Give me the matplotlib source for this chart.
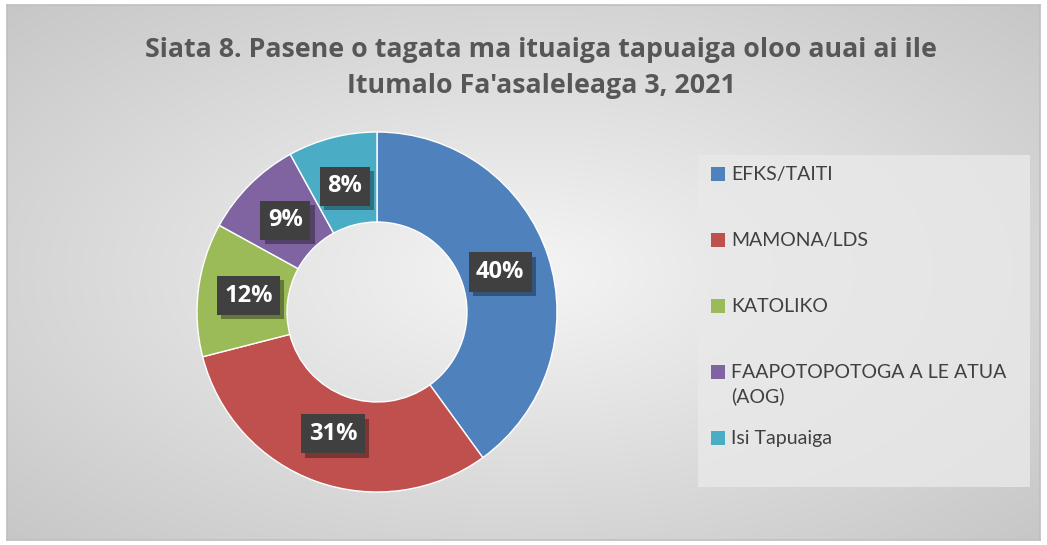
import numpy as np
import matplotlib.pyplot as plt
from matplotlib.patches import Rectangle
import matplotlib.patheffects as pe

plt.rcParams['font.family'] = ['Lato', 'DejaVu Sans']
plt.rcParams['hatch.color'] = '#575757'
plt.rcParams['hatch.linewidth'] = 0.6

title = "Siata 8. Pasene o tagata ma ituaiga tapuaiga oloo auai ai ile\nItumalo Fa'asaleleaga 3, 2021"
categories = ["EFKS/TAITI", "MAMONA/LDS", "KATOLIKO", "FAAPOTOPOTOGA A LE ATUA\n(AOG)", "Isi Tapuaiga"]
values = [40, 31, 12, 9, 8]
colors = ["#4F81BD", "#C0504D", "#9BBB59", "#8064A2", "#4BACC6"]

W, H = 1047, 545
fig = plt.figure(figsize=(W / 100, H / 100), dpi=100)

# radial gradient background
bg = fig.add_axes([7 / W, 5 / H, 1033 / W, 535 / H])
yy, xx = np.mgrid[0:1:300j, 0:1:600j]
d = np.sqrt(((xx - 0.5) / 0.5) ** 2 + ((yy - 0.5) / 0.5) ** 2) / np.sqrt(2)
shade = 0.96 - 0.18 * d
bg.imshow(np.dstack([shade] * 3), aspect='auto', extent=[0, 1, 0, 1])
bg.set_xticks([])
bg.set_yticks([])
for s in bg.spines.values():
    s.set_color('#bfbfbf')
    s.set_linewidth(1.2)

fig.text(0.517, 1 - 68 / H, title, ha='center', va='center', fontsize=19.3,
         fontweight='bold', family=['Open Sans', 'DejaVu Sans'], color='#575757',
         linespacing=1.5)

# donut
cx, cy, r = 377, 312, 180
ax = fig.add_axes([(cx - r) / W, (H - cy - r) / H, 2 * r / W, 2 * r / H])
ax.set_facecolor('none')
wedges, _ = ax.pie(values, colors=colors, startangle=90, counterclock=False,
                   radius=1, wedgeprops=dict(width=0.5, edgecolor='white', linewidth=1))
ax.set_xlim(-1, 1)
ax.set_ylim(-1, 1)
ax.axis('off')

start = 90
for v, w in zip(values, wedges):
    mid = np.deg2rad(start - v * 3.6 / 2)
    start -= v * 3.6
    x, y = 0.72 * np.cos(mid), 0.72 * np.sin(mid)
    t = ax.text(x, y, f"{v}%", ha='center', va='center', fontsize=17, fontweight='bold',
                family=['Open Sans', 'DejaVu Sans'], color='white',
                bbox=dict(boxstyle='square,pad=0.32', facecolor='#404040', edgecolor='none', hatch='..'))
    t.get_bbox_patch().set_path_effects([
        pe.SimplePatchShadow(offset=(3, -3), shadow_rgbFace='black', alpha=0.35), pe.Normal()])

# legend
fig.patches.append(Rectangle((698 / W, 1 - 487 / H), 332 / W, 332 / H, transform=fig.transFigure,
                             facecolor='#e9e9e9', edgecolor='none', alpha=0.8, zorder=1))
for i, (lab, c) in enumerate(zip(categories, colors)):
    ytop = 174 + i * 66
    fig.patches.append(Rectangle((711 / W, 1 - (ytop + 7) / H), 14 / W, 14 / H,
                                 transform=fig.transFigure, facecolor=c, edgecolor='none', zorder=2))
    fig.text(731 / W, 1 - (ytop - 8) / H, lab, ha='left', va='top', fontsize=14,
             color='#404040', linespacing=1.45)

fig.savefig('out.png', dpi=100)
